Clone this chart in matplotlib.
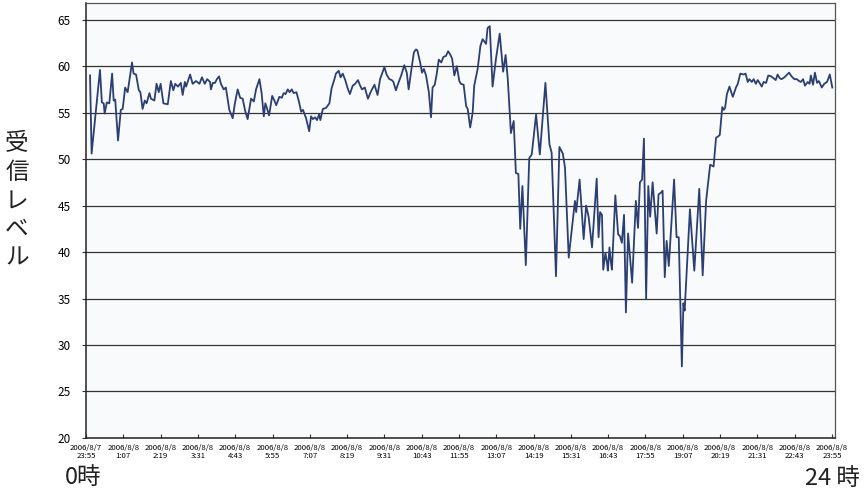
import numpy as np
import matplotlib
matplotlib.use('Agg')
import matplotlib.pyplot as plt

plt.rcParams['font.family'] = ['Noto Sans CJK JP', 'DejaVu Sans']

# 時刻（0時からの経過時間[h]）と受信レベル
hours = [
    0.13, 0.18, 0.45, 0.51, 0.57, 0.60, 0.67, 0.75, 0.84, 0.89, 0.94, 1.03,
    1.12, 1.18, 1.26, 1.34, 1.48, 1.53, 1.61, 1.70, 1.75, 1.82, 1.89, 1.95,
    2.04, 2.09, 2.20, 2.27, 2.34, 2.40, 2.49, 2.63, 2.73, 2.81, 2.87, 2.96,
    3.05, 3.11, 3.18, 3.22, 3.35, 3.43, 3.54, 3.65, 3.73, 3.82, 3.90, 3.99,
    4.02, 4.08, 4.15, 4.21, 4.28, 4.34, 4.43, 4.50, 4.61, 4.72, 4.79, 4.88,
    4.96, 5.04, 5.12, 5.20, 5.31, 5.40, 5.47, 5.58, 5.65, 5.72, 5.77, 5.82,
    5.89, 5.99, 6.06, 6.12, 6.22, 6.30, 6.36, 6.42, 6.49, 6.55, 6.62, 6.68,
    6.77, 6.85, 6.92, 6.98, 7.08, 7.18, 7.24, 7.30, 7.37, 7.43, 7.50, 7.54,
    7.62, 7.72, 7.83, 7.90, 8.01,
    8.04, 8.13, 8.19, 8.26, 8.34, 8.42, 8.49, 8.58, 8.66, 8.75, 8.82, 8.88,
    8.97, 9.07, 9.17, 9.28, 9.38, 9.46, 9.60, 9.67, 9.76, 9.84, 9.89, 9.97,
    10.04, 10.14, 10.24, 10.32, 10.38, 10.47, 10.55, 10.62, 10.66, 10.75,
    10.81, 10.87, 10.94, 11.03, 11.10, 11.15, 11.22, 11.28, 11.35, 11.43,
    11.50, 11.58, 11.65, 11.71, 11.78, 11.85, 11.93, 12.01,
    12.06, 12.15, 12.23, 12.28, 12.36, 12.44, 12.49, 12.60, 12.69, 12.76,
    12.87, 12.92, 12.99, 13.08, 13.19, 13.31, 13.42, 13.50, 13.57, 13.67,
    13.76, 13.83, 13.91, 13.97, 14.04, 14.15, 14.26, 14.34, 14.48, 14.60,
    14.78, 14.91, 14.98, 15.12, 15.23, 15.34, 15.41, 15.53, 15.73, 15.77,
    15.88, 16.01,
    16.09, 16.17, 16.28, 16.43, 16.49, 16.54, 16.60, 16.64, 16.71, 16.76,
    16.79, 16.84, 16.88, 16.92, 17.03, 17.12, 17.18, 17.24, 17.31, 17.37,
    17.44, 17.57, 17.69, 17.76, 17.82, 17.89, 17.95, 18.02, 18.09, 18.15,
    18.23, 18.36, 18.42, 18.50, 18.55, 18.62, 18.68, 18.75, 18.92, 19.00,
    19.07, 19.17, 19.22, 19.26, 19.43, 19.57, 19.73, 19.84, 19.95, 20.08,
    20.19, 20.27, 20.32, 20.39, 20.47, 20.52, 20.56, 20.62, 20.70, 20.81,
    20.91, 20.97, 21.05, 21.16, 21.22, 21.29, 21.34, 21.42, 21.48, 21.55,
    21.61, 21.67, 21.74, 21.80, 21.88, 21.95, 22.04, 22.12, 22.19, 22.25,
    22.32, 22.38, 22.47, 22.62, 22.70, 22.79, 22.87, 22.94, 23.00, 23.07,
    23.13, 23.22, 23.28, 23.32, 23.39, 23.45, 23.52, 23.58, 23.67, 23.75,
    23.84, 23.93, 24.01,
]
level = [
    59.0, 50.6, 59.6, 56.1, 56.0, 54.9, 56.1, 56.0, 59.2, 56.3, 56.4, 52.0,
    55.3, 55.4, 57.7, 57.2, 60.4, 59.2, 59.1, 57.4, 57.2, 55.4, 56.3, 56.0,
    57.1, 56.5, 56.3, 58.1, 57.2, 58.1, 56.0, 55.9, 58.4, 57.4, 58.1, 57.8,
    58.2, 56.9, 58.3, 57.8, 59.1, 58.1, 58.4, 58.1, 58.8, 58.1, 58.6, 58.3,
    57.5, 58.2, 58.2, 58.6, 58.9, 58.1, 57.5, 57.7, 55.3, 54.4, 56.0, 57.5,
    56.6, 56.5, 55.2, 54.3, 56.5, 56.2, 57.5, 58.6, 57.1, 54.6, 56.0, 55.5,
    54.7, 56.8, 56.3, 55.8, 56.7, 56.6, 57.1, 57.0, 57.5, 57.2, 57.5, 57.1,
    57.2, 56.2, 55.1, 55.3, 54.4, 53.0, 54.6, 54.3, 54.5, 54.2, 54.8, 54.2,
    55.4, 55.5, 56.0, 57.6, 58.8,
    59.2, 59.5, 58.8, 59.2, 58.5, 57.6, 57.0, 57.9, 58.1, 58.5, 57.9, 57.5,
    57.7, 56.5, 57.3, 58.0, 56.9, 58.6, 59.9, 59.1, 58.6, 58.5, 58.3, 57.4,
    58.1, 59.0, 60.1, 59.3, 57.5, 59.7, 61.5, 61.8, 61.7, 60.4,
    59.3, 59.7, 59.0, 57.2, 54.5, 57.7, 58.0, 59.1, 60.7, 60.4,
    61.0, 61.1, 61.6, 61.3, 60.8, 59.0, 60.0, 58.4,
    58.1, 58.0, 55.7, 55.4, 53.4, 55.0, 57.9, 59.7, 62.2, 62.9,
    62.4, 64.1, 64.3, 57.8, 60.8, 63.5, 59.4, 61.2, 58.6, 52.8,
    54.1, 48.5, 48.4, 42.5, 47.1, 38.6, 50.1, 50.5, 54.8, 50.5,
    58.2, 51.6, 50.7, 37.4, 51.3, 50.6, 49.1, 39.4, 45.5, 44.3,
    47.8, 41.4,
    45.0, 43.8, 40.5, 47.9, 41.6, 44.3, 44.0, 38.1, 39.9, 38.9,
    38.0, 40.5, 39.1, 38.1, 46.1, 41.9, 41.7, 41.0, 44.0, 33.5,
    42.0, 36.7, 45.5, 42.6, 47.5, 47.8, 52.2, 35.0, 47.1, 43.8,
    47.5, 42.0, 46.2, 46.4, 46.6, 37.3, 41.2, 38.5, 47.8, 41.6,
    41.6, 27.7, 34.5, 33.7, 44.6, 38.0, 46.8, 37.5, 45.5, 49.4,
    49.2, 52.3, 52.4, 52.6, 55.6, 55.3, 55.5, 57.0, 57.8, 56.7,
    57.7, 58.1, 59.2, 59.1, 59.2, 58.3, 58.6, 58.3, 58.6, 58.1,
    58.5, 58.2, 57.8, 58.3, 58.2, 59.0, 58.9, 58.7, 58.5, 59.1,
    58.7, 58.6, 58.8, 59.3, 58.9, 58.6, 58.6, 58.4, 58.3, 58.6,
    57.9, 58.3, 58.1, 59.0, 58.0, 59.3, 58.2, 58.4, 57.7, 58.1,
    58.3, 59.1, 57.7,
]

# 目盛ラベル（1時間12分ごと）
tick_dates = ['2006/8/7'] + ['2006/8/8'] * 20
tick_times = ['23:55', '1:07', '2:19', '3:31', '4:43', '5:55', '7:07',
              '8:19', '9:31', '10:43', '11:55', '13:07', '14:19', '15:31',
              '16:43', '17:55', '19:07', '20:19', '21:31', '22:43', '23:55']
tick_pos = np.arange(len(tick_times)) * 1.2

fig = plt.figure(figsize=(8.67, 4.91), dpi=100)
ax = fig.add_axes([0.0992, 0.108, 0.864, 0.886])
ax.set_facecolor('#f9fafb')

ax.plot(hours, level, color='#2b3f72', lw=1.3, zorder=3)

ax.set_xlim(0, 24.1)
ax.set_ylim(20, 66.8)
ax.set_yticks(np.arange(20, 66, 5))
ax.yaxis.grid(True, color='#333333', lw=0.9)
ax.set_axisbelow(True)

ax.set_xticks(tick_pos)
ax.set_xticklabels([d + '\n' + t for d, t in zip(tick_dates, tick_times)],
                   fontsize=5.6, linespacing=1.15)
ax.tick_params(axis='x', direction='in', length=3, pad=4, color='#333333')
ax.tick_params(axis='y', direction='out', length=3, pad=8, labelsize=8.5,
               color='#333333')

for side in ['left', 'bottom']:
    ax.spines[side].set_color('#222222')
    ax.spines[side].set_linewidth(1.1)
for side in ['top', 'right']:
    ax.spines[side].set_color('#555555')
    ax.spines[side].set_linewidth(0.9)

# 縦書きの軸タイトル
ylab = '受信レベル'
for i, ch in enumerate(ylab):
    fig.text(0.0196, 1 - (144 + i * 28.5) / 491, ch, fontsize=17,
             ha='center', va='center', color='#222222')

fig.text(0.075, 0.027, '0時', fontsize=17, ha='left', va='center',
         color='#222222')
fig.text(0.992, 0.025, '24 時', fontsize=17, ha='right', va='center',
         color='#222222')

fig.savefig('out.png', dpi=100)
